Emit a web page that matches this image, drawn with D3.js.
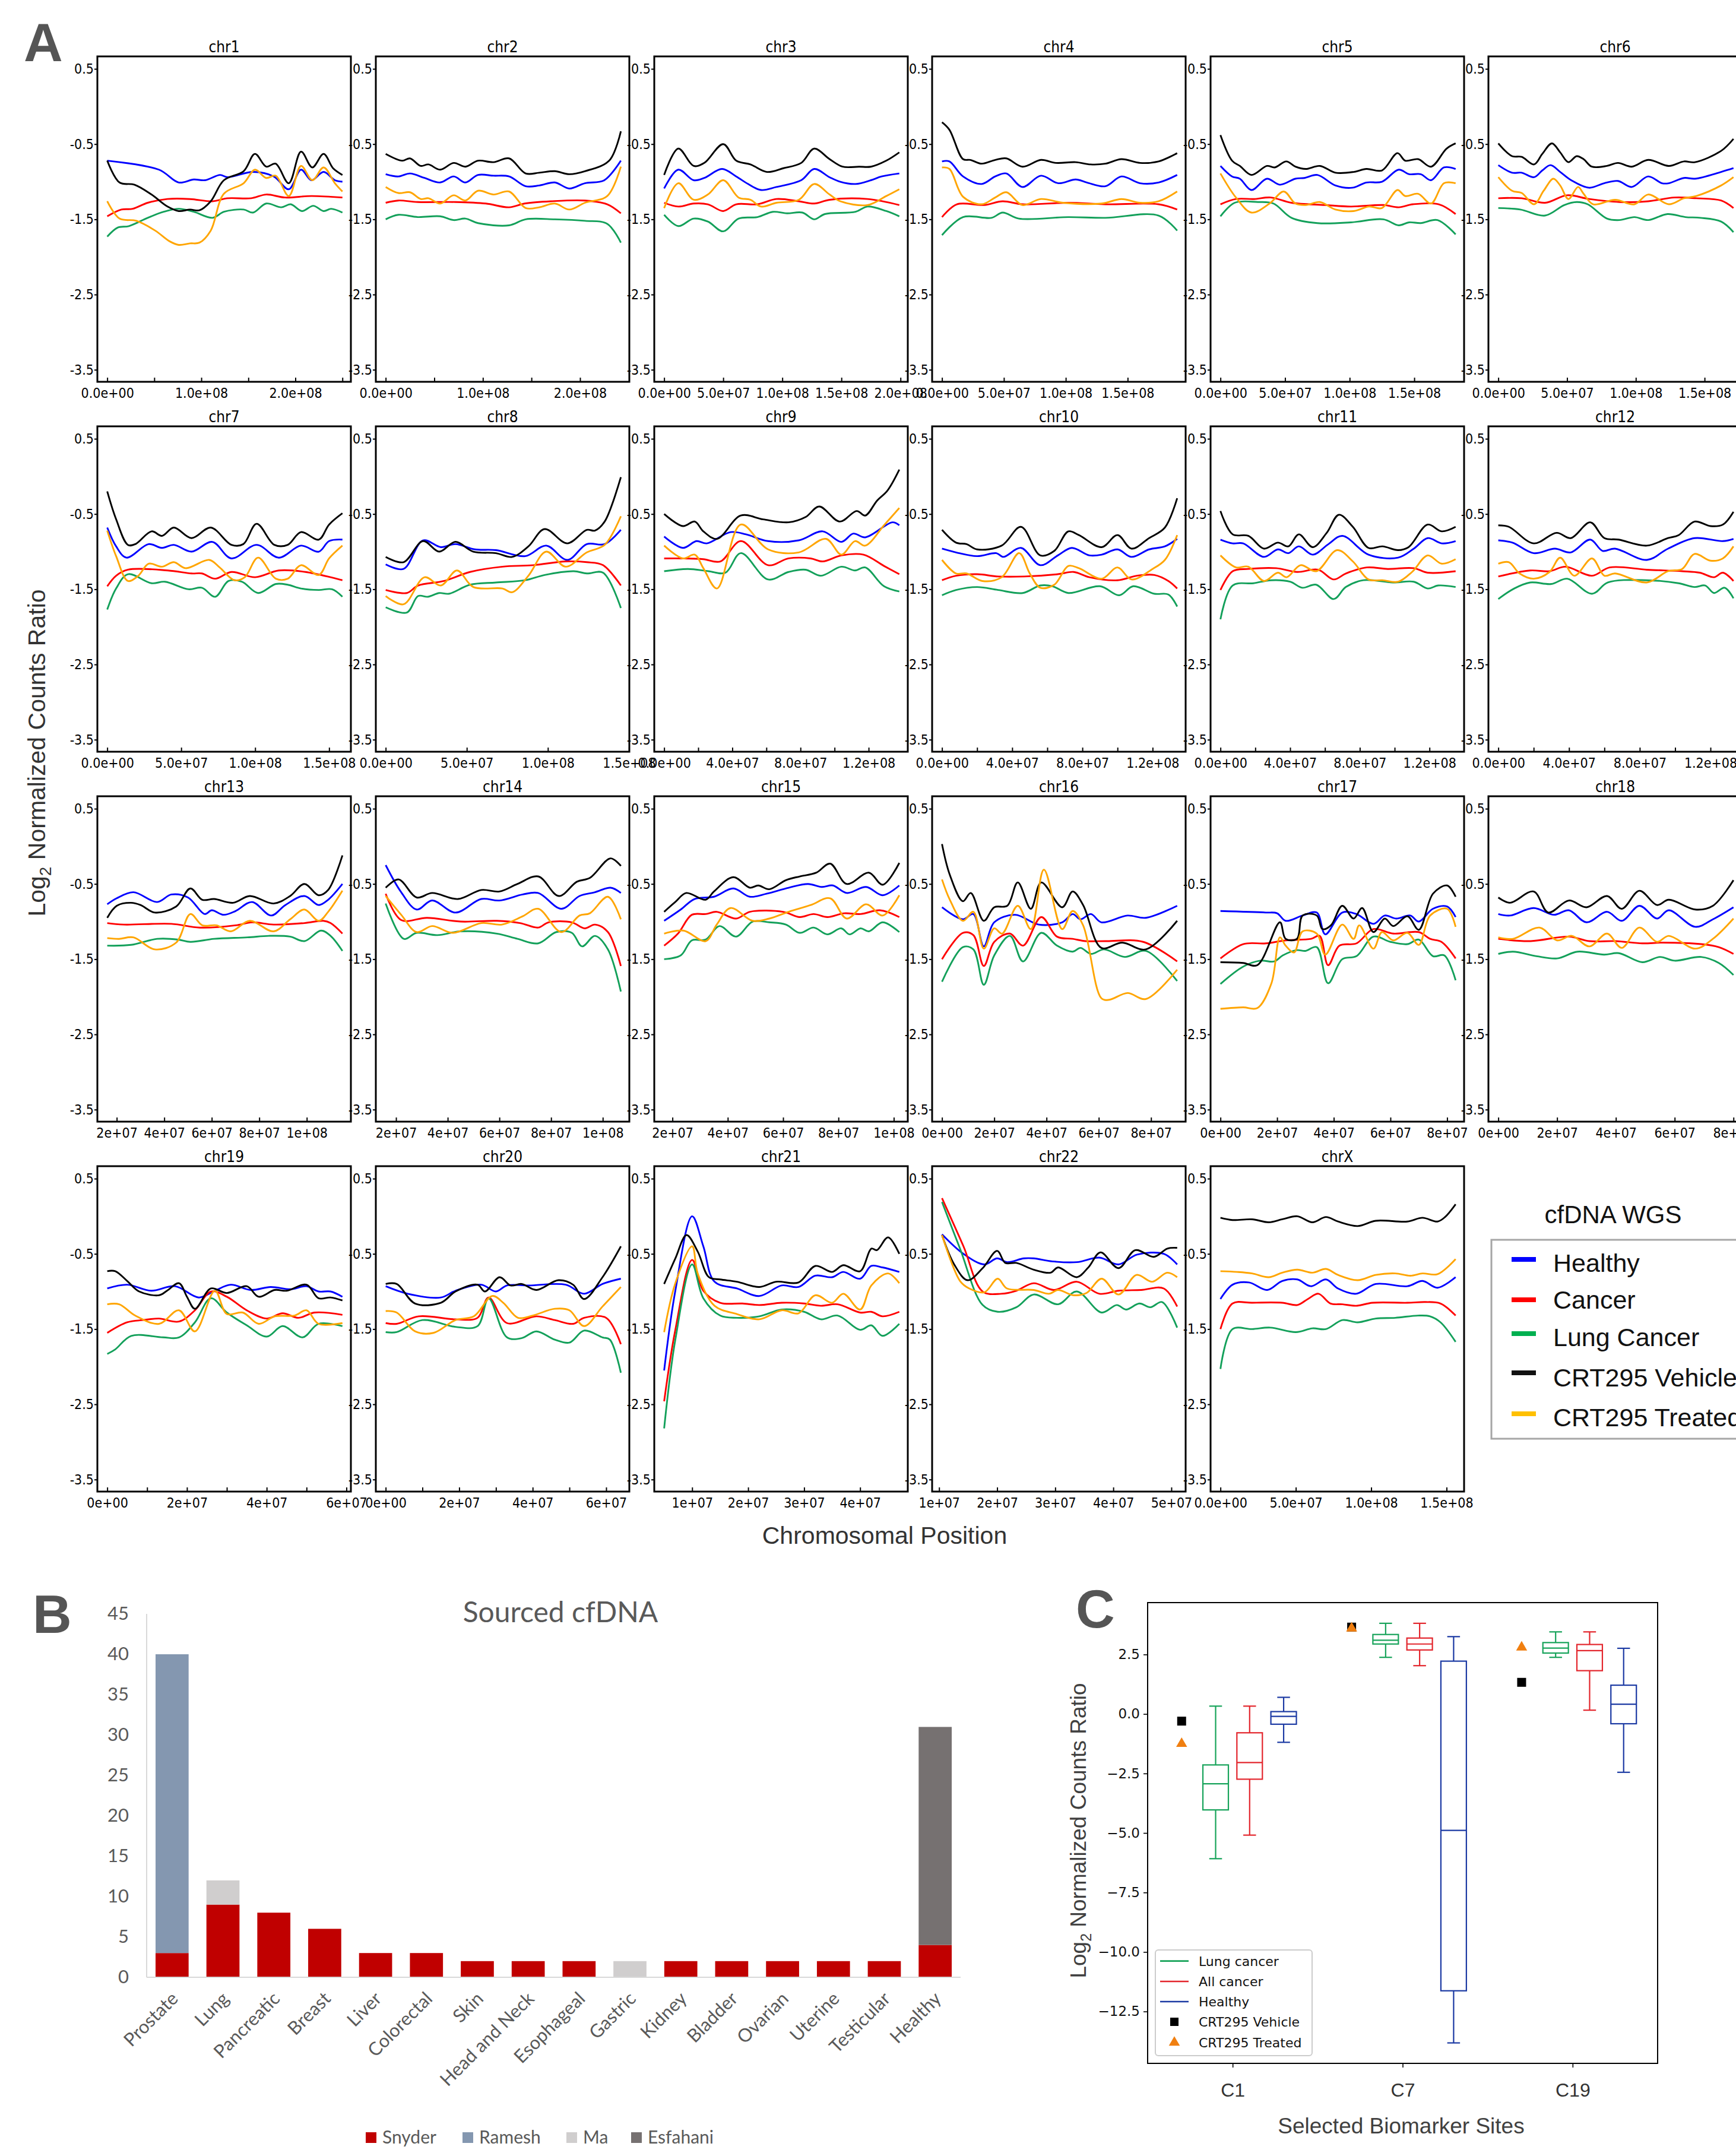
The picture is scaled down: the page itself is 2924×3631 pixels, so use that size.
<!DOCTYPE html>
<html lang="en">
<head>
<meta charset="UTF-8">
<title>cfDNA WGS, sourced cfDNA and biomarker sites</title>
<script src="https://cdn.jsdelivr.net/npm/d3@7"></script>
<style>
  body { margin: 0; background: #fff; }
  svg { display: block; }
</style>
</head>
<body>
<svg id="fig" width="2924" height="3631"></svg>
<script>
// ---------- panel A data (positions in Mb, log2 ratio) ----------
const chrNames = ["chr1","chr2","chr3","chr4","chr5","chr6","chr7","chr8","chr9","chr10","chr11","chr12",
  "chr13","chr14","chr15","chr16","chr17","chr18","chr19","chr20","chr21","chr22","chrX"];

const majorTicks = [[0,100,200],[0,100,200],[0,50,100,150,200],[0,50,100,150],[0,50,100,150],[0,50,100,150],
  [0,50,100,150],[0,50,100,150],[0,40,80,120],[0,40,80,120],[0,40,80,120],[0,40,80,120],
  [20,40,60,80,100],[20,40,60,80,100],[20,40,60,80,100],[0,20,40,60,80],[0,20,40,60,80],[0,20,40,60,80],
  [0,20,40,60],[0,20,40,60],[10,20,30,40,50],[10,20,30,40,50],[0,50,100,150]];
const minorTicks = [[50,150,250],[50,150],[],[],[],[],[],[],[20,60,100],[20,60,100],[20,60,100],[20,60,100],
  [],[],[],[],[],[],[10,30,50],[10,30,50],[],[],[]];
const tickDigits = [1,1,1,1,1,1,1,1,1,1,1,1,0,0,0,0,0,0,0,0,0,0,1];
const yTicksA = [0.5,-0.5,-1.5,-2.5,-3.5];

const healthy = [
 [[0,-0.72],[55,-0.84],[76,-1.01],[92,-0.97],[104,-0.98],[120,-0.91],[128,-0.94],[155,-0.87],[177,-0.93],[193,-1.10],[206,-0.84],[217,-0.98],[230,-0.87],[242,-0.98],[250,-1.0]],
 [[0,-0.90],[13,-0.93],[25,-0.89],[40,-0.95],[56,-1.01],[70,-0.93],[82,-1.01],[95,-0.91],[111,-0.92],[127,-0.93],[144,-1.06],[158,-1.05],[174,-1.01],[189,-1.09],[205,-1.02],[225,-0.98],[242,-0.72]],
 [[0,-1.09],[12,-0.84],[25,-0.98],[34,-0.95],[49,-0.83],[61,-0.93],[71,-1.03],[82,-1.11],[95,-1.07],[116,-0.98],[127,-0.83],[140,-0.94],[149,-1.0],[162,-1.03],[175,-0.98],[184,-0.93],[199,-0.89]],
 [[0,-0.73],[6,-0.73],[17,-0.93],[32,-1.03],[43,-0.93],[52,-0.89],[65,-1.07],[80,-0.92],[94,-1.02],[108,-0.97],[117,-1.01],[132,-1.06],[145,-0.93],[160,-1.02],[175,-1.01],[190,-0.91]],
 [[0,-0.79],[9,-0.93],[15,-0.96],[24,-1.11],[36,-0.96],[46,-1.04],[58,-0.96],[65,-0.95],[75,-0.91],[89,-1.05],[102,-1.08],[113,-1.01],[125,-1.0],[138,-0.84],[146,-0.90],[155,-0.90],[163,-0.98],[173,-0.81],[182,-0.83]],
 [[0,-0.78],[10,-0.88],[17,-0.88],[26,-0.94],[32,-0.85],[38,-0.78],[45,-0.87],[53,-0.98],[66,-1.08],[77,-1.02],[87,-0.99],[97,-1.07],[109,-0.93],[119,-1.02],[124,-1.02],[135,-0.95],[143,-0.96],[162,-0.87],[171,-0.82]],
 [[0,-0.68],[6,-0.93],[13,-1.08],[28,-0.90],[37,-0.95],[45,-0.91],[57,-1.0],[71,-0.87],[84,-1.09],[101,-0.91],[116,-1.08],[131,-0.92],[143,-1.0],[150,-0.86],[159,-0.84]],
 [[0,-1.17],[11,-1.23],[23,-0.85],[34,-0.94],[43,-0.90],[55,-0.97],[68,-0.98],[86,-1.06],[99,-0.92],[112,-1.11],[124,-0.90],[135,-0.90],[145,-0.71]],
 [[0,-0.80],[11,-0.95],[19,-0.86],[25,-0.89],[39,-0.74],[48,-0.77],[61,-0.86],[79,-0.85],[93,-0.73],[104,-0.87],[111,-0.76],[118,-0.81],[134,-0.61],[138,-0.65]],
 [[0,-0.96],[8,-1.01],[20,-1.06],[31,-1.02],[35,-1.07],[45,-0.95],[56,-1.18],[66,-1.05],[74,-0.95],[84,-1.05],[91,-1.04],[100,-0.97],[108,-1.07],[118,-0.97],[127,-0.93],[134,-0.83]],
 [[0,-0.84],[7,-0.89],[13,-0.89],[25,-1.07],[33,-0.97],[39,-1.02],[45,-0.93],[53,-1.04],[62,-0.90],[70,-0.79],[85,-1.04],[102,-1.08],[111,-0.96],[119,-0.82],[127,-0.89],[135,-0.86]],
 [[0,-0.85],[8,-0.88],[20,-1.02],[32,-0.96],[41,-1.01],[52,-0.84],[59,-0.99],[66,-0.96],[84,-1.11],[96,-0.96],[111,-0.82],[127,-0.86],[133,-0.83]],
 [[16,-0.77],[20,-0.69],[27,-0.61],[37,-0.74],[43,-0.64],[50,-0.68],[57,-0.90],[60,-0.85],[65,-0.91],[70,-0.86],[77,-0.74],[85,-0.92],[91,-0.78],[99,-0.66],[105,-0.78],[109,-0.71],[115,-0.50]],
 [[16,-0.25],[22,-0.61],[28,-0.84],[34,-0.72],[43,-0.88],[53,-0.70],[60,-0.72],[69,-0.64],[75,-0.62],[84,-0.83],[91,-0.66],[97,-0.61],[103,-0.55],[107,-0.62]],
 [[17,-0.99],[23,-0.84],[28,-0.70],[35,-0.67],[42,-0.56],[48,-0.67],[54,-0.63],[62,-0.55],[69,-0.50],[74,-0.54],[78,-0.52],[83,-0.62],[90,-0.54],[96,-0.65],[102,-0.52]],
 [[0,-0.81],[8,-0.97],[12,-0.90],[16,-1.33],[20,-1.01],[28,-0.91],[37,-1.04],[46,-1.01],[50,-0.90],[53,-0.97],[57,-0.90],[61,-1.01],[71,-0.92],[78,-0.95],[90,-0.79]],
 [[0,-0.86],[16,-0.88],[20,-0.89],[23,-0.99],[29,-0.92],[34,-0.88],[37,-1.17],[43,-0.88],[48,-0.90],[54,-1.03],[58,-0.92],[62,-0.96],[67,-0.92],[70,-1.0],[75,-0.83],[80,-0.80],[83,-0.94]],
 [[0,-0.90],[4,-0.92],[12,-0.82],[19,-0.91],[24,-0.85],[30,-1.01],[37,-0.87],[42,-0.99],[48,-0.79],[54,-0.96],[58,-0.85],[67,-1.07],[73,-0.97],[80,-0.81]],
 [[0,-0.96],[5,-0.91],[11,-0.99],[17,-0.93],[23,-1.08],[27,-0.99],[31,-0.91],[36,-0.98],[41,-0.94],[46,-0.97],[50,-0.93],[53,-1.0],[56,-1.0],[59,-1.07]],
 [[0,-0.93],[6,-1.03],[15,-1.08],[19,-0.99],[26,-0.91],[30,-1.0],[33,-0.92],[39,-0.92],[49,-0.91],[54,-1.03],[59,-0.90],[64,-0.83]],
 [[5,-2.05],[7,-0.99],[10,0.0],[12,-0.40],[14,-0.87],[18,-0.96],[22,-1.06],[26,-0.92],[29,-0.94],[32,-0.79],[35,-0.81],[37,-0.74],[40,-0.83],[42,-0.66],[44,-0.68],[47,-0.74]],
 [[10.5,-0.24],[14.2,-0.50],[17.8,-0.64],[20,-0.56],[21.7,-0.61],[24.6,-0.56],[26.3,-0.56],[29.5,-0.60],[33.7,-0.61],[37.6,-0.55],[40.9,-0.64],[44.1,-0.51],[48.7,-0.50],[51,-0.64]],
 [[0,-1.10],[8,-0.91],[19,-0.88],[31,-0.98],[41,-0.86],[51,-0.84],[60,-0.93],[70,-0.84],[78,-0.96],[90,-1.03],[103,-0.90],[124,-0.93],[134,-0.86],[144,-0.95],[156,-0.81]]
];

const cancer = [
 [[0,-1.46],[15,-1.37],[27,-1.36],[43,-1.28],[64,-1.23],[88,-1.23],[112,-1.26],[128,-1.22],[153,-1.22],[169,-1.17],[189,-1.21],[217,-1.19],[250,-1.21]],
 [[0,-1.28],[13,-1.25],[33,-1.27],[72,-1.27],[103,-1.29],[127,-1.34],[143,-1.29],[170,-1.26],[205,-1.25],[228,-1.30],[242,-1.42]],
 [[0,-1.28],[12,-1.33],[25,-1.29],[37,-1.30],[50,-1.39],[61,-1.30],[79,-1.30],[95,-1.23],[114,-1.26],[127,-1.29],[140,-1.24],[172,-1.23],[199,-1.31]],
 [[0,-1.47],[12,-1.30],[34,-1.31],[49,-1.26],[65,-1.30],[102,-1.28],[132,-1.30],[175,-1.30],[190,-1.37]],
 [[0,-1.30],[12,-1.23],[26,-1.23],[39,-1.21],[55,-1.28],[81,-1.31],[101,-1.33],[126,-1.31],[138,-1.34],[149,-1.30],[169,-1.30],[182,-1.43]],
 [[0,-1.22],[17,-1.22],[34,-1.28],[50,-1.18],[66,-1.23],[88,-1.27],[109,-1.26],[128,-1.21],[144,-1.22],[162,-1.25],[171,-1.35]],
 [[0,-1.46],[6,-1.32],[14,-1.24],[41,-1.25],[57,-1.29],[64,-1.29],[73,-1.36],[84,-1.27],[100,-1.34],[116,-1.25],[134,-1.27],[159,-1.38]],
 [[0,-1.51],[13,-1.55],[20,-1.45],[36,-1.39],[52,-1.27],[72,-1.20],[91,-1.18],[111,-1.13],[124,-1.14],[134,-1.18],[145,-1.45]],
 [[0,-1.09],[11,-1.09],[23,-1.10],[33,-1.13],[45,-0.86],[61,-1.18],[73,-1.09],[86,-1.09],[93,-1.13],[104,-1.05],[117,-1.04],[129,-1.19],[138,-1.30]],
 [[0,-1.38],[8,-1.32],[20,-1.30],[32,-1.33],[47,-1.33],[66,-1.30],[75,-1.27],[84,-1.34],[100,-1.38],[111,-1.32],[121,-1.31],[129,-1.39],[134,-1.49]],
 [[0,-1.51],[7,-1.26],[16,-1.23],[32,-1.22],[44,-1.27],[56,-1.24],[65,-1.37],[72,-1.29],[84,-1.21],[96,-1.23],[111,-1.22],[119,-1.28],[135,-1.26]],
 [[0,-1.33],[18,-1.25],[29,-1.26],[38,-1.20],[53,-1.32],[63,-1.21],[84,-1.24],[104,-1.26],[114,-1.28],[122,-1.34],[127,-1.28],[133,-1.39]],
 [[16,-1.02],[23,-1.04],[43,-1.03],[55,-1.08],[70,-1.05],[77,-1.01],[86,-1.04],[99,-1.02],[107,-0.99],[110,-1.02],[115,-1.16]],
 [[16,-0.63],[22,-0.98],[32,-0.95],[45,-1.0],[59,-0.99],[68,-1.02],[75,-1.08],[79,-1.01],[88,-1.01],[93,-1.09],[97,-1.04],[102,-1.14],[107,-1.59]],
 [[17,-1.32],[22,-1.16],[27,-0.91],[32,-0.90],[36,-0.87],[43,-0.96],[48,-0.87],[60,-0.87],[66,-0.94],[71,-0.90],[76,-0.94],[82,-0.89],[88,-0.90],[95,-0.85],[102,-0.94]],
 [[0,-1.50],[8,-1.15],[12,-1.18],[16,-1.59],[20,-1.27],[26,-1.16],[31,-1.32],[38,-0.94],[44,-1.20],[50,-1.23],[55,-1.26],[63,-1.26],[77,-1.27],[90,-1.53]],
 [[0,-1.49],[8,-1.30],[16,-1.29],[23,-1.25],[32,-1.23],[35,-1.19],[38,-1.58],[42,-1.32],[48,-1.29],[54,-1.10],[61,-1.16],[70,-1.14],[74,-1.23],[78,-1.27],[83,-1.49]],
 [[0,-1.23],[11,-1.26],[24,-1.20],[31,-1.26],[40,-1.26],[49,-1.29],[56,-1.28],[69,-1.30],[75,-1.34],[80,-1.43]],
 [[0,-1.55],[5,-1.41],[9,-1.38],[13,-1.36],[18,-1.40],[22,-1.25],[26,-1.0],[30,-1.07],[35,-1.25],[40,-1.36],[44,-1.29],[48,-1.35],[52,-1.28],[59,-1.31]],
 [[0,-1.42],[3,-1.43],[9,-1.33],[19,-1.37],[25,-1.35],[28,-1.08],[33,-1.42],[41,-1.33],[46,-1.38],[51,-1.43],[54,-1.35],[60,-1.35],[64,-1.70]],
 [[5,-2.46],[7,-1.51],[10,-0.58],[12,-0.99],[15,-1.15],[19,-1.16],[22,-1.18],[26,-1.15],[30,-1.16],[33,-1.19],[36,-1.17],[40,-1.28],[42,-1.27],[44,-1.33],[47,-1.27]],
 [[10.5,0.24],[14.2,-0.40],[17.5,-1.0],[20.7,-1.03],[23.3,-0.99],[26.3,-0.89],[29.8,-0.98],[33.7,-0.87],[37.6,-1.03],[40.9,-0.99],[44.8,-0.98],[48.7,-0.96],[51,-1.20]],
 [[0,-1.50],[8,-1.16],[21,-1.15],[41,-1.15],[51,-1.18],[58,-1.10],[65,-1.03],[73,-1.16],[81,-1.17],[90,-1.19],[101,-1.15],[124,-1.15],[136,-1.14],[146,-1.16],[156,-1.32]]
];

const lungCancer = [
 [[0,-1.73],[11,-1.61],[23,-1.59],[43,-1.48],[60,-1.40],[76,-1.36],[92,-1.40],[112,-1.48],[124,-1.40],[145,-1.37],[155,-1.41],[169,-1.29],[185,-1.34],[195,-1.30],[207,-1.39],[219,-1.32],[230,-1.39],[238,-1.36],[250,-1.41]],
 [[0,-1.50],[13,-1.44],[33,-1.47],[56,-1.46],[70,-1.51],[82,-1.49],[95,-1.55],[127,-1.58],[144,-1.50],[174,-1.50],[205,-1.52],[228,-1.56],[242,-1.81]],
 [[0,-1.44],[12,-1.59],[25,-1.49],[37,-1.53],[50,-1.66],[63,-1.49],[79,-1.47],[92,-1.40],[104,-1.42],[117,-1.41],[127,-1.50],[136,-1.43],[162,-1.40],[172,-1.33],[188,-1.39],[199,-1.46]],
 [[0,-1.71],[17,-1.47],[40,-1.48],[49,-1.41],[62,-1.49],[102,-1.47],[132,-1.48],[175,-1.45],[190,-1.65]],
 [[0,-1.46],[11,-1.28],[29,-1.27],[41,-1.29],[55,-1.48],[75,-1.55],[101,-1.54],[126,-1.50],[138,-1.58],[146,-1.54],[155,-1.55],[168,-1.51],[182,-1.70]],
 [[0,-1.35],[16,-1.37],[34,-1.45],[48,-1.31],[57,-1.27],[65,-1.30],[79,-1.49],[88,-1.51],[99,-1.47],[109,-1.51],[123,-1.43],[136,-1.47],[147,-1.48],[162,-1.53],[171,-1.67]],
 [[0,-1.77],[6,-1.49],[14,-1.30],[30,-1.42],[39,-1.40],[55,-1.50],[64,-1.48],[73,-1.60],[82,-1.39],[91,-1.40],[102,-1.55],[114,-1.43],[122,-1.44],[131,-1.49],[143,-1.51],[152,-1.50],[159,-1.60]],
 [[0,-1.74],[13,-1.81],[20,-1.59],[26,-1.60],[33,-1.55],[39,-1.56],[52,-1.44],[68,-1.41],[86,-1.38],[98,-1.31],[116,-1.26],[124,-1.29],[134,-1.28],[145,-1.75]],
 [[0,-1.26],[14,-1.23],[26,-1.26],[36,-1.28],[45,-1.02],[61,-1.37],[73,-1.27],[83,-1.24],[92,-1.32],[104,-1.20],[112,-1.25],[118,-1.21],[129,-1.46],[138,-1.53]],
 [[0,-1.58],[8,-1.51],[20,-1.47],[32,-1.51],[46,-1.55],[56,-1.45],[63,-1.46],[72,-1.55],[90,-1.46],[101,-1.58],[109,-1.46],[121,-1.56],[129,-1.57],[134,-1.73]],
 [[0,-1.90],[7,-1.45],[19,-1.42],[29,-1.38],[40,-1.40],[47,-1.48],[55,-1.44],[65,-1.63],[72,-1.47],[82,-1.38],[99,-1.41],[111,-1.40],[119,-1.49],[125,-1.45],[135,-1.47]],
 [[0,-1.63],[9,-1.49],[18,-1.41],[30,-1.43],[39,-1.36],[53,-1.56],[62,-1.41],[84,-1.38],[102,-1.42],[111,-1.47],[117,-1.45],[122,-1.55],[128,-1.48],[133,-1.62]],
 [[16,-1.32],[26,-1.31],[37,-1.23],[46,-1.24],[51,-1.27],[61,-1.23],[75,-1.21],[84,-1.19],[93,-1.20],[99,-1.26],[106,-1.12],[110,-1.19],[115,-1.39]],
 [[16,-0.76],[23,-1.23],[28,-1.15],[36,-1.18],[45,-1.13],[59,-1.16],[67,-1.23],[75,-1.29],[82,-1.14],[88,-1.15],[92,-1.33],[97,-1.19],[102,-1.37],[107,-1.93]],
 [[17,-1.50],[23,-1.45],[27,-1.25],[32,-1.24],[37,-1.06],[43,-1.20],[49,-1.0],[55,-1.01],[61,-1.04],[66,-1.15],[71,-1.08],[76,-1.17],[81,-1.09],[84,-1.17],[88,-1.09],[91,-1.13],[96,-1.01],[102,-1.14]],
 [[0,-1.80],[8,-1.34],[12,-1.37],[16,-1.84],[20,-1.45],[26,-1.19],[31,-1.53],[38,-1.15],[44,-1.32],[50,-1.40],[53,-1.35],[57,-1.43],[62,-1.37],[70,-1.47],[78,-1.39],[90,-1.79]],
 [[0,-1.83],[8,-1.60],[14,-1.52],[19,-1.53],[22,-1.45],[27,-1.38],[30,-1.39],[34,-1.34],[38,-1.82],[43,-1.50],[48,-1.46],[54,-1.20],[60,-1.27],[66,-1.30],[70,-1.24],[75,-1.46],[79,-1.45],[83,-1.78]],
 [[0,-1.43],[5,-1.40],[13,-1.46],[20,-1.49],[27,-1.40],[36,-1.44],[41,-1.42],[49,-1.54],[55,-1.47],[60,-1.52],[69,-1.47],[75,-1.55],[80,-1.71]],
 [[0,-1.83],[2,-1.77],[6,-1.59],[14,-1.61],[18,-1.61],[22,-1.41],[26,-1.09],[30,-1.28],[35,-1.45],[40,-1.60],[44,-1.46],[49,-1.61],[53,-1.43],[59,-1.46]],
 [[0,-1.54],[3,-1.54],[10,-1.38],[19,-1.47],[25,-1.46],[28,-1.09],[33,-1.61],[37,-1.62],[41,-1.53],[46,-1.64],[50,-1.68],[54,-1.52],[59,-1.61],[61,-1.64],[64,-2.08]],
 [[5,-2.82],[7,-1.64],[10,-0.64],[12,-1.09],[15,-1.32],[18,-1.35],[22,-1.33],[26,-1.24],[30,-1.27],[33,-1.37],[36,-1.32],[40,-1.51],[42,-1.45],[44,-1.59],[47,-1.43]],
 [[10.5,0.19],[13.6,-0.43],[17.5,-1.18],[20.1,-1.27],[23.3,-1.21],[26.3,-1.04],[30.5,-1.17],[33.7,-1.0],[38,-1.28],[40.6,-1.18],[42.2,-1.24],[44.5,-1.16],[46.4,-1.21],[48.4,-1.14],[51,-1.48]],
 [[0,-2.03],[8,-1.50],[21,-1.50],[33,-1.48],[50,-1.54],[61,-1.49],[70,-1.50],[81,-1.38],[91,-1.41],[103,-1.36],[116,-1.35],[131,-1.32],[139,-1.33],[146,-1.41],[156,-1.67]]
];

const vehicle = [
 [[0,-0.72],[13,-1.01],[29,-1.04],[47,-1.17],[64,-1.33],[76,-1.39],[88,-1.37],[98,-1.38],[110,-1.26],[124,-0.98],[145,-0.86],[157,-0.63],[169,-0.80],[179,-0.76],[193,-1.02],[206,-0.60],[218,-0.81],[230,-0.63],[240,-0.82],[250,-0.91]],
 [[0,-0.63],[17,-0.72],[25,-0.69],[36,-0.79],[44,-0.77],[56,-0.84],[70,-0.75],[82,-0.80],[95,-0.72],[111,-0.74],[127,-0.69],[144,-0.89],[158,-0.88],[174,-0.86],[189,-0.90],[205,-0.86],[230,-0.72],[242,-0.33]],
 [[0,-0.91],[12,-0.56],[25,-0.79],[34,-0.75],[50,-0.50],[61,-0.72],[73,-0.77],[87,-0.87],[101,-0.82],[116,-0.75],[127,-0.56],[140,-0.70],[151,-0.80],[165,-0.80],[175,-0.80],[188,-0.72],[199,-0.61]],
 [[0,-0.21],[6,-0.31],[17,-0.70],[23,-0.71],[32,-0.76],[43,-0.71],[52,-0.69],[65,-0.80],[80,-0.71],[92,-0.75],[108,-0.74],[120,-0.77],[132,-0.76],[145,-0.70],[160,-0.75],[175,-0.73],[190,-0.62]],
 [[0,-0.38],[9,-0.72],[15,-0.79],[24,-0.91],[36,-0.79],[42,-0.81],[51,-0.73],[58,-0.80],[66,-0.83],[77,-0.79],[89,-0.88],[103,-0.87],[113,-0.83],[125,-0.85],[137,-0.62],[143,-0.72],[153,-0.70],[163,-0.80],[175,-0.56],[182,-0.49]],
 [[0,-0.49],[10,-0.66],[17,-0.67],[26,-0.77],[32,-0.63],[39,-0.49],[45,-0.61],[51,-0.74],[57,-0.66],[62,-0.70],[68,-0.80],[79,-0.79],[87,-0.75],[97,-0.80],[109,-0.71],[124,-0.79],[135,-0.73],[143,-0.74],[162,-0.59],[171,-0.43]],
 [[0,-0.20],[6,-0.57],[14,-0.91],[19,-0.90],[30,-0.73],[37,-0.79],[45,-0.68],[57,-0.82],[70,-0.68],[84,-0.91],[92,-0.90],[101,-0.63],[113,-0.91],[122,-0.91],[131,-0.74],[143,-0.84],[150,-0.64],[159,-0.49]],
 [[0,-1.07],[11,-1.14],[23,-0.86],[33,-1.0],[43,-0.87],[54,-1.0],[68,-1.02],[78,-1.07],[88,-0.93],[98,-0.70],[112,-0.89],[124,-0.71],[129,-0.72],[135,-0.60],[145,-0.01]],
 [[0,-0.50],[11,-0.66],[18,-0.60],[23,-0.73],[31,-0.83],[45,-0.52],[58,-0.57],[73,-0.61],[83,-0.54],[91,-0.40],[103,-0.60],[113,-0.46],[118,-0.52],[125,-0.32],[131,-0.19],[138,0.09]],
 [[0,-0.71],[8,-0.88],[14,-0.90],[20,-0.97],[34,-0.92],[45,-0.67],[56,-1.05],[64,-0.99],[72,-0.73],[78,-0.78],[91,-0.94],[100,-0.78],[108,-0.96],[118,-0.82],[127,-0.68],[134,-0.29]],
 [[0,-0.46],[7,-0.77],[16,-0.79],[25,-0.96],[33,-0.88],[39,-0.93],[45,-0.77],[53,-0.94],[61,-0.75],[68,-0.51],[76,-0.67],[85,-0.95],[93,-0.93],[102,-0.98],[108,-0.94],[119,-0.64],[127,-0.73],[135,-0.67]],
 [[0,-0.65],[6,-0.67],[20,-0.89],[33,-0.75],[41,-0.82],[52,-0.61],[60,-0.82],[68,-0.84],[84,-0.92],[96,-0.82],[102,-0.78],[111,-0.60],[120,-0.66],[127,-0.64],[133,-0.47]],
 [[16,-0.95],[20,-0.79],[26,-0.75],[30,-0.78],[36,-0.88],[45,-0.80],[51,-0.56],[56,-0.71],[61,-0.70],[69,-0.75],[76,-0.66],[86,-0.76],[93,-0.66],[99,-0.50],[105,-0.65],[109,-0.58],[115,-0.12]],
 [[16,-0.55],[21,-0.44],[28,-0.68],[34,-0.62],[44,-0.70],[53,-0.58],[60,-0.60],[67,-0.50],[75,-0.40],[83,-0.66],[90,-0.47],[95,-0.42],[103,-0.16],[107,-0.26]],
 [[17,-0.87],[21,-0.74],[25,-0.62],[32,-0.71],[35,-0.60],[42,-0.41],[48,-0.55],[51,-0.52],[55,-0.57],[61,-0.45],[66,-0.40],[72,-0.35],[77,-0.23],[83,-0.50],[91,-0.35],[96,-0.51],[102,-0.22]],
 [[0,0.03],[3,-0.38],[8,-0.73],[11,-0.62],[16,-0.99],[20,-0.81],[25,-0.79],[29,-0.48],[34,-0.83],[38,-0.48],[46,-0.81],[50,-0.60],[54,-0.78],[61,-1.35],[69,-1.28],[78,-1.37],[90,-0.99]],
 [[0,-1.54],[8,-1.55],[13,-1.58],[21,-1.01],[23,-1.23],[27,-1.23],[29,-0.92],[34,-0.92],[36,-1.10],[39,-1.05],[43,-0.79],[47,-0.96],[50,-0.82],[54,-1.14],[58,-0.96],[61,-1.06],[66,-0.93],[70,-1.11],[75,-0.63],[80,-0.52],[83,-0.67]],
 [[0,-0.68],[4,-0.75],[12,-0.60],[17,-0.88],[24,-0.72],[30,-0.81],[37,-0.66],[42,-0.83],[48,-0.59],[54,-0.78],[58,-0.71],[67,-0.84],[73,-0.79],[80,-0.45]],
 [[0,-0.73],[2,-0.73],[5,-0.86],[8,-1.0],[13,-1.05],[15,-0.99],[18,-0.89],[20,-1.07],[22,-1.23],[26,-0.96],[30,-1.02],[35,-0.93],[38,-1.07],[42,-0.98],[45,-0.99],[50,-0.91],[53,-1.09],[56,-1.08],[59,-1.12]],
 [[0,-0.90],[3,-0.90],[8,-1.16],[15,-1.15],[19,-1.0],[25,-0.91],[27,-1.0],[31,-0.81],[34,-0.92],[37,-0.90],[41,-0.98],[47,-0.85],[51,-0.91],[54,-1.10],[59,-0.81],[64,-0.40]],
 [[5,-0.90],[7,-0.56],[9,-0.25],[11,-0.47],[13,-0.81],[15,-0.84],[18,-0.87],[22,-0.94],[25,-0.87],[29,-0.88],[32,-0.66],[35,-0.74],[37,-0.65],[40,-0.73],[42,-0.43],[43,-0.45],[45,-0.28],[47,-0.50]],
 [[10.5,-0.25],[12.6,-0.64],[14.9,-0.85],[17.5,-0.69],[20,-0.46],[21.4,-0.62],[23.3,-0.62],[26.3,-0.71],[29.2,-0.75],[30.5,-0.68],[33.7,-0.81],[35.7,-0.68],[37.8,-0.48],[40.9,-0.69],[43.8,-0.45],[47,-0.54],[49.3,-0.43],[51,-0.42]],
 [[0,-0.02],[8,-0.05],[21,-0.04],[32,-0.08],[41,-0.04],[51,0.0],[61,-0.08],[70,-0.01],[78,-0.07],[91,-0.13],[103,-0.06],[124,-0.07],[134,-0.02],[144,-0.07],[149,-0.01],[156,0.16]]
];

const treated = [
 [[0,-1.26],[13,-1.49],[31,-1.52],[51,-1.65],[66,-1.79],[76,-1.84],[88,-1.82],[98,-1.81],[110,-1.65],[124,-1.16],[145,-1.02],[157,-0.84],[169,-0.95],[179,-0.92],[193,-1.19],[206,-0.79],[218,-0.98],[230,-0.81],[242,-1.02],[250,-1.13]],
 [[0,-1.07],[13,-1.15],[25,-1.14],[36,-1.23],[44,-1.22],[56,-1.29],[70,-1.18],[82,-1.25],[95,-1.12],[111,-1.17],[127,-1.13],[144,-1.35],[158,-1.34],[174,-1.29],[189,-1.37],[205,-1.28],[228,-1.19],[242,-0.80]],
 [[0,-1.35],[12,-1.02],[25,-1.24],[37,-1.17],[50,-0.98],[63,-1.21],[73,-1.24],[82,-1.33],[95,-1.28],[114,-1.24],[127,-1.03],[140,-1.17],[149,-1.26],[172,-1.31],[188,-1.19],[199,-1.10]],
 [[0,-0.81],[6,-0.83],[17,-1.20],[32,-1.30],[43,-1.21],[52,-1.14],[65,-1.31],[80,-1.23],[98,-1.28],[129,-1.29],[145,-1.23],[160,-1.28],[175,-1.26],[190,-1.13]],
 [[0,-0.89],[12,-1.21],[24,-1.41],[38,-1.29],[49,-1.13],[58,-1.29],[66,-1.31],[77,-1.27],[89,-1.37],[103,-1.39],[115,-1.33],[125,-1.35],[137,-1.11],[143,-1.19],[153,-1.16],[163,-1.29],[173,-1.02],[182,-1.02]],
 [[0,-0.94],[10,-1.12],[17,-1.15],[26,-1.30],[33,-1.12],[40,-0.96],[45,-1.05],[51,-1.23],[58,-1.07],[62,-1.16],[69,-1.30],[85,-1.24],[99,-1.30],[109,-1.17],[124,-1.30],[135,-1.22],[144,-1.19],[162,-1.05],[171,-0.94]],
 [[0,-0.72],[6,-1.06],[14,-1.39],[21,-1.32],[28,-1.16],[37,-1.20],[45,-1.14],[53,-1.22],[69,-1.11],[76,-1.21],[86,-1.38],[93,-1.34],[102,-1.08],[114,-1.36],[122,-1.36],[131,-1.18],[143,-1.31],[150,-1.09],[159,-0.92]],
 [[0,-1.59],[11,-1.70],[24,-1.34],[34,-1.45],[44,-1.25],[54,-1.47],[72,-1.49],[78,-1.54],[88,-1.32],[99,-1.0],[111,-1.20],[124,-1.01],[135,-0.91],[145,-0.53]],
 [[0,-0.92],[11,-1.09],[18,-1.04],[23,-1.22],[31,-1.49],[45,-0.64],[61,-0.97],[79,-1.01],[95,-0.83],[104,-1.04],[112,-0.86],[118,-0.92],[129,-0.65],[138,-0.42]],
 [[0,-1.11],[8,-1.29],[14,-1.29],[23,-1.39],[34,-1.34],[44,-1.02],[50,-1.29],[56,-1.48],[64,-1.44],[72,-1.19],[78,-1.22],[91,-1.36],[100,-1.21],[108,-1.37],[120,-1.23],[127,-1.11],[134,-0.78]],
 [[0,-1.05],[9,-1.21],[16,-1.20],[25,-1.39],[33,-1.28],[38,-1.34],[46,-1.18],[55,-1.26],[67,-0.98],[76,-1.13],[85,-1.37],[93,-1.38],[102,-1.40],[110,-1.27],[119,-1.05],[127,-1.16],[135,-1.10]],
 [[0,-1.16],[6,-1.14],[12,-1.29],[20,-1.36],[29,-1.27],[35,-1.08],[43,-1.32],[53,-1.09],[60,-1.32],[66,-1.29],[84,-1.41],[96,-1.26],[104,-1.23],[111,-1.03],[120,-1.12],[127,-1.09],[133,-0.93]],
 [[16,-1.22],[21,-1.23],[27,-1.21],[36,-1.37],[45,-1.28],[51,-0.90],[56,-1.05],[62,-1.05],[68,-1.13],[76,-0.99],[86,-1.13],[93,-0.97],[99,-0.84],[105,-0.99],[109,-0.87],[115,-0.59]],
 [[16,-0.66],[22,-0.91],[28,-1.14],[34,-1.06],[42,-1.15],[53,-1.02],[61,-1.04],[69,-0.93],[75,-0.83],[84,-1.14],[91,-0.92],[95,-0.89],[102,-0.67],[107,-0.97]],
 [[17,-1.16],[24,-1.12],[32,-1.26],[36,-1.04],[41,-0.82],[49,-0.99],[55,-0.96],[62,-0.87],[70,-0.78],[77,-0.69],[83,-0.96],[90,-0.77],[96,-0.92],[102,-0.65]],
 [[0,-0.44],[3,-0.71],[8,-0.99],[12,-0.87],[16,-1.36],[20,-1.09],[23,-1.16],[29,-0.79],[34,-1.10],[39,-0.31],[46,-1.10],[50,-0.86],[54,-1.05],[61,-2.02],[64,-2.04],[71,-1.95],[78,-2.03],[90,-1.64]],
 [[0,-2.16],[8,-2.14],[13,-2.15],[18,-1.82],[21,-1.21],[23,-1.32],[26,-1.41],[29,-1.13],[34,-1.16],[37,-1.44],[43,-1.04],[47,-1.23],[49,-1.05],[54,-1.36],[57,-1.14],[61,-1.25],[66,-1.15],[70,-1.31],[74,-0.92],[80,-0.83],[83,-1.07]],
 [[0,-1.21],[5,-1.23],[14,-1.08],[20,-1.25],[25,-1.19],[31,-1.33],[37,-1.16],[42,-1.35],[48,-1.08],[54,-1.27],[58,-1.19],[67,-1.36],[73,-1.23],[80,-0.96]],
 [[0,-1.17],[3,-1.17],[7,-1.32],[13,-1.43],[18,-1.25],[22,-1.53],[27,-0.99],[30,-1.30],[34,-1.28],[38,-1.43],[42,-1.33],[47,-1.32],[50,-1.25],[53,-1.43],[59,-1.42]],
 [[0,-1.26],[3,-1.28],[8,-1.53],[13,-1.55],[19,-1.38],[24,-1.33],[29,-1.06],[32,-1.15],[36,-1.35],[40,-1.32],[46,-1.23],[50,-1.25],[54,-1.46],[59,-1.20],[64,-0.94]],
 [[5,-1.54],[7,-0.89],[10,-0.40],[11,-0.76],[14,-1.19],[18,-1.30],[22,-1.37],[26,-1.25],[29,-1.29],[32,-1.05],[35,-1.15],[37,-1.03],[40,-1.24],[42,-0.92],[45,-0.76],[47,-0.89]],
 [[10.5,-0.25],[13.6,-0.86],[15.2,-0.96],[17.8,-1.01],[20.1,-0.83],[21.7,-0.96],[26.3,-0.98],[28.9,-1.03],[30.5,-0.98],[33.1,-1.05],[35.4,-1.02],[38,-0.83],[40.9,-1.04],[44,-0.78],[46.7,-0.87],[49.3,-0.75],[51,-0.81]],
 [[0,-0.73],[11,-0.74],[21,-0.76],[32,-0.81],[41,-0.75],[51,-0.71],[61,-0.75],[70,-0.70],[78,-0.78],[91,-0.85],[103,-0.78],[116,-0.76],[126,-0.79],[134,-0.76],[144,-0.77],[156,-0.57]]
];

// ---------- panel B data ----------
const categories = ["Prostate","Lung","Pancreatic","Breast","Liver","Colorectal","Skin","Head and Neck",
  "Esophageal","Gastric","Kidney","Bladder","Ovarian","Uterine","Testicular","Healthy"];
const snyder   = [3,9,8,6,3,3,2,2,2,0,2,2,2,2,2,4];
const ramesh   = [37,0,0,0,0,0,0,0,0,0,0,0,0,0,0,0];
const ma       = [0,3,0,0,0,0,0,0,0,2,0,0,0,0,0,0];
const esfahani = [0,0,0,0,0,0,0,0,0,0,0,0,0,0,0,27];
const yTicksB  = [0,5,10,15,20,25,30,35,40,45];

// ---------- panel C data: [low whisker, q1, median, q3, high whisker] ----------
const sites = ["C1","C7","C19"];
const lungBox    = [[-6.08,-4.03,-2.93,-2.14,0.33],[2.38,2.94,3.10,3.34,3.81],[2.38,2.56,2.77,3.00,3.45]];
const allCancerBox = [[-5.09,-2.74,-2.04,-0.79,0.33],[2.03,2.69,2.94,3.19,3.81],[0.16,1.82,2.66,2.92,3.45]];
const healthyBox = [[-1.19,-0.43,-0.10,0.10,0.70],[-13.82,-11.63,-4.89,2.22,3.25],[-2.45,-0.41,0.41,1.21,2.76]];
const vehiclePts = [-0.30,3.65,1.33];
const treatedPts = [-1.25,3.60,2.80];
const yTicksC = [2.5,0,-2.5,-5,-7.5,-10,-12.5];

// ---------- drawing ----------
const svg = d3.select("#fig");
svg.append("rect").attr("width",2924).attr("height",3631).attr("fill","#fff");

const narrow = '"Liberation Sans Narrow", "Arial Narrow", "DejaVu Sans Condensed", sans-serif';
const sans = '"Liberation Sans", Arial, sans-serif';

const colLeft = [164, 633, 1102, 1570, 2039, 2507];
const rowTop = [95, 718, 1341, 1964];
const panelW = 427, panelH = 548;

const seriesA = [
  {name: "Healthy", data: healthy, color: "#0000ff", key: "#0000ff"},
  {name: "Cancer", data: cancer, color: "#ff0000", key: "#ff0000"},
  {name: "Lung Cancer", data: lungCancer, color: "#13a05a", key: "#00b050"},
  {name: "CRT295 Vehicle", data: vehicle, color: "#000000", key: "#111111"},
  {name: "CRT295 Treated", data: treated, color: "#ffa500", key: "#ffc000"}
];

function sciLabel(mb, digits) {
  const s = (mb * 1e6).toExponential(digits);
  return s.replace(/e([+-])(\d)$/, (m, sg, d) => "e" + sg + "0" + d);
}

const yA = d3.scaleLinear().domain([-3.66, 0.666]).range([panelH, 0]);

chrNames.forEach((name, i) => {
  const col = i % 6, row = Math.floor(i / 6);
  const g = svg.append("g").attr("transform", `translate(${colLeft[col]},${rowTop[row]})`);
  const pts = seriesA.flatMap(s => s.data[i]);
  const [x0, x1] = d3.extent(pts, d => d[0]);
  const span = x1 - x0;
  const x = d3.scaleLinear().domain([x0 - 0.042 * span, x1 + 0.036 * span]).range([0, panelW]);
  const inDom = v => v >= x.domain()[0] && v <= x.domain()[1];

  const line = d3.line().x(d => x(d[0])).y(d => yA(d[1])).curve(d3.curveCatmullRom.alpha(0.5));
  seriesA.forEach(s => {
    g.append("path").attr("d", line(s.data[i])).attr("fill", "none")
      .attr("stroke", s.color).attr("stroke-width", 2.9).attr("stroke-linejoin", "round");
  });

  const xAxis = d3.axisBottom(x).tickValues(majorTicks[i].filter(inDom))
    .tickFormat(v => sciLabel(v, tickDigits[i])).tickSizeInner(-7).tickSizeOuter(0).tickPadding(11);
  const ax = g.append("g").attr("transform", `translate(0,${panelH})`).call(xAxis);
  const mn = g.append("g").attr("transform", `translate(0,${panelH})`)
    .call(d3.axisBottom(x).tickValues(minorTicks[i].filter(inDom)).tickFormat("").tickSizeInner(-7).tickSizeOuter(0));
  const ay = g.append("g").call(d3.axisLeft(yA).tickValues(yTicksA).tickFormat(v => v.toFixed(1))
    .tickSizeInner(5).tickSizeOuter(0).tickPadding(1));
  [ax, mn, ay].forEach(a => {
    a.select(".domain").remove();
    a.selectAll("line").attr("stroke", "#000").attr("stroke-width", 2);
    a.selectAll("text").attr("font-family", narrow).attr("font-size", 23).attr("fill", "#000");
  });

  g.append("rect").attr("width", panelW).attr("height", panelH)
    .attr("fill", "none").attr("stroke", "#000").attr("stroke-width", 3);
  g.append("text").attr("x", panelW / 2).attr("y", -7).attr("text-anchor", "middle")
    .attr("font-family", narrow).attr("font-size", 26).text(name);
});

// panel A labels
svg.append("text").attr("x", 40).attr("y", 103).attr("font-family", sans).attr("font-weight", "bold")
  .attr("font-size", 91).attr("fill", "#555").text("A");
svg.append("text").attr("x", 1490).attr("y", 2600).attr("text-anchor", "middle")
  .attr("font-family", sans).attr("font-size", 41).attr("fill", "#333").text("Chromosomal Position");
const yTitleA = svg.append("text").attr("transform", "translate(76,1268) rotate(-90)")
  .attr("text-anchor", "middle").attr("font-family", sans).attr("font-size", 41).attr("fill", "#333");
yTitleA.append("tspan").text("Log");
yTitleA.append("tspan").attr("font-size", 28).attr("dy", 10).text("2");
yTitleA.append("tspan").attr("dy", -10).text(" Normalized Counts Ratio");

// panel A legend
svg.append("text").attr("x", 2717).attr("y", 2060).attr("text-anchor", "middle")
  .attr("font-family", sans).attr("font-size", 42).attr("fill", "#111").text("cfDNA WGS");
svg.append("rect").attr("x", 2512).attr("y", 2088).attr("width", 460).attr("height", 335)
  .attr("fill", "#fff").attr("stroke", "#a6a6a6").attr("stroke-width", 3);
const keyLineY = [2121, 2189, 2246, 2312, 2381];
const keyTextY = [2127, 2189, 2252, 2320, 2387];
seriesA.forEach((s, k) => {
  svg.append("line").attr("x1", 2546).attr("x2", 2587).attr("y1", keyLineY[k]).attr("y2", keyLineY[k])
    .attr("stroke", s.key).attr("stroke-width", 8);
  svg.append("text").attr("x", 2616).attr("y", keyTextY[k] + 15).attr("font-family", sans)
    .attr("font-size", 43).attr("fill", "#111").text(s.name);
});

// ---------- panel B ----------
const calib = 'Lato, "Open Sans", sans-serif';
const sourceKeys = ["Snyder","Ramesh","Ma","Esfahani"];
const sourceColors = {Snyder: "#c00000", Ramesh: "#8497b0", Ma: "#d0cece", Esfahani: "#767171"};
const tableB = categories.map((c, j) => ({cat: c, Snyder: snyder[j], Ramesh: ramesh[j], Ma: ma[j], Esfahani: esfahani[j]}));
const stackB = d3.stack().keys(sourceKeys)(tableB);
const xB = d3.scaleBand().domain(categories).range([247, 1618]).paddingInner(0.35).paddingOuter(0.175);
const yB = d3.scaleLinear().domain([0, 45]).range([3330, 2718]);

svg.append("line").attr("x1", 247).attr("x2", 247).attr("y1", 2718).attr("y2", 3330)
  .attr("stroke", "#d9d9d9").attr("stroke-width", 2);
stackB.forEach(layer => {
  svg.append("g").selectAll("rect").data(layer.filter(d => d[1] > d[0])).join("rect")
    .attr("x", d => xB(d.data.cat)).attr("width", xB.bandwidth())
    .attr("y", d => yB(d[1])).attr("height", d => yB(d[0]) - yB(d[1]))
    .attr("fill", sourceColors[layer.key]);
});
svg.append("line").attr("x1", 247).attr("x2", 1618).attr("y1", 3330).attr("y2", 3330)
  .attr("stroke", "#d9d9d9").attr("stroke-width", 2);

const ayB = svg.append("g").attr("transform", "translate(247,0)")
  .call(d3.axisLeft(yB).tickValues(yTicksB).tickSize(0).tickPadding(30));
ayB.select(".domain").remove();
ayB.selectAll("text").attr("font-family", calib).attr("font-size", 31).attr("fill", "#595959");

categories.forEach(c => {
  svg.append("text").attr("transform", `translate(${xB(c) + xB.bandwidth() / 2 + 12},${3368}) rotate(-45)`)
    .attr("text-anchor", "end").attr("font-family", calib).attr("font-size", 31).attr("fill", "#595959").text(c);
});
svg.append("text").attr("x", 944).attr("y", 2732).attr("text-anchor", "middle")
  .attr("font-family", calib).attr("font-size", 48).attr("fill", "#595959").text("Sourced cfDNA");
svg.append("text").attr("x", 55).attr("y", 2750).attr("font-family", sans).attr("font-weight", "bold")
  .attr("font-size", 91).attr("fill", "#555").text("B");
const keyBX = [616, 779, 954, 1063];
sourceKeys.forEach((k, j) => {
  svg.append("rect").attr("x", keyBX[j]).attr("y", 3591).attr("width", 18).attr("height", 18).attr("fill", sourceColors[k]);
  svg.append("text").attr("x", keyBX[j] + 28).attr("y", 3610).attr("font-family", calib)
    .attr("font-size", 30).attr("fill", "#595959").text(k);
});

// ---------- panel C ----------
const dejavu = '"DejaVu Sans", sans-serif';
const xC = d3.scaleLinear().domain([0.5, 3.5]).range([1933, 2792]);
const yC = d3.scaleLinear().domain([-14.68, 4.68]).range([3475, 2699]);
const boxW = 0.15;
const groupsC = [
  {name: "Lung cancer", data: lungBox, color: "#17a35a", off: -0.1},
  {name: "All cancer", data: allCancerBox, color: "#e3262d", off: 0.1},
  {name: "Healthy", data: healthyBox, color: "#1c3aa3", off: 0.3}
];
const pxW = xC(1 + boxW) - xC(1);
groupsC.forEach(gr => {
  gr.data.forEach((b, j) => {
    const cxp = xC(j + 1 + gr.off);
    const gg = svg.append("g").attr("stroke", gr.color).attr("stroke-width", 2.2).attr("fill", "none");
    gg.append("line").attr("x1", cxp).attr("x2", cxp).attr("y1", yC(b[0])).attr("y2", yC(b[1]));
    gg.append("line").attr("x1", cxp).attr("x2", cxp).attr("y1", yC(b[3])).attr("y2", yC(b[4]));
    [b[0], b[4]].forEach(v => gg.append("line").attr("x1", cxp - pxW / 4).attr("x2", cxp + pxW / 4)
      .attr("y1", yC(v)).attr("y2", yC(v)));
    gg.append("rect").attr("x", cxp - pxW / 2).attr("width", pxW)
      .attr("y", yC(b[3])).attr("height", yC(b[1]) - yC(b[3]));
    gg.append("line").attr("x1", cxp - pxW / 2).attr("x2", cxp + pxW / 2).attr("y1", yC(b[2])).attr("y2", yC(b[2]));
  });
});
const sq = 15;
vehiclePts.forEach((v, j) => {
  svg.append("rect").attr("x", xC(j + 1 - 0.3) - sq / 2).attr("y", yC(v) - sq / 2)
    .attr("width", sq).attr("height", sq).attr("fill", "#000");
});
const tri = d3.symbol().type(d3.symbolTriangle).size(150);
treatedPts.forEach((v, j) => {
  svg.append("path").attr("d", tri()).attr("transform", `translate(${xC(j + 1 - 0.3)},${yC(v)})`).attr("fill", "#f07f10");
});

svg.append("rect").attr("x", 1933).attr("y", 2699).attr("width", 2792 - 1933).attr("height", 3475 - 2699)
  .attr("fill", "none").attr("stroke", "#000").attr("stroke-width", 2);
const ayC = svg.append("g").attr("transform", "translate(1933,0)")
  .call(d3.axisLeft(yC).tickValues(yTicksC).tickFormat(d3.format(".1f")).tickSize(7).tickPadding(6));
const axC = svg.append("g").attr("transform", "translate(0,3475)")
  .call(d3.axisBottom(xC).tickValues([1,2,3]).tickFormat((v, j) => sites[j]).tickSize(7).tickPadding(26));
[ayC, axC].forEach(a => {
  a.select(".domain").remove();
  a.selectAll("line").attr("stroke", "#000").attr("stroke-width", 1.6);
});
ayC.selectAll("text").attr("font-family", dejavu).attr("font-size", 23).attr("fill", "#111");
axC.selectAll("text").attr("font-family", sans).attr("font-size", 32).attr("fill", "#333");

svg.append("text").attr("x", 2360).attr("y", 3593).attr("text-anchor", "middle")
  .attr("font-family", sans).attr("font-size", 37).attr("fill", "#404040").text("Selected Biomarker Sites");
const yTitleC = svg.append("text").attr("transform", "translate(1829,3083) rotate(-90)")
  .attr("text-anchor", "middle").attr("font-family", sans).attr("font-size", 37).attr("fill", "#404040");
yTitleC.append("tspan").text("Log");
yTitleC.append("tspan").attr("font-size", 25).attr("dy", 9).text("2");
yTitleC.append("tspan").attr("dy", -9).text(" Normalized Counts Ratio");
svg.append("text").attr("x", 1812).attr("y", 2741).attr("font-family", sans).attr("font-weight", "bold")
  .attr("font-size", 91).attr("fill", "#555").text("C");

// legend C
svg.append("rect").attr("x", 1946).attr("y", 3284).attr("width", 264).attr("height", 178).attr("rx", 5)
  .attr("fill", "#fff").attr("fill-opacity", 0.8).attr("stroke", "#cccccc").attr("stroke-width", 2);
const keyCY = [3302.6, 3337, 3371, 3405, 3440];
groupsC.forEach((gr, k) => {
  svg.append("line").attr("x1", 1954).attr("x2", 2002).attr("y1", keyCY[k]).attr("y2", keyCY[k])
    .attr("stroke", gr.color).attr("stroke-width", 2.6);
});
svg.append("rect").attr("x", 1978 - 7).attr("y", keyCY[3] - 7).attr("width", 14).attr("height", 14).attr("fill", "#000");
svg.append("path").attr("d", tri()).attr("transform", `translate(1978,${keyCY[4]})`).attr("fill", "#f07f10");
["Lung cancer","All cancer","Healthy","CRT295 Vehicle","CRT295 Treated"].forEach((t, k) => {
  svg.append("text").attr("x", 2019).attr("y", keyCY[k] + 8).attr("font-family", dejavu)
    .attr("font-size", 22).attr("fill", "#111").text(t);
});
</script>
</body>
</html>
